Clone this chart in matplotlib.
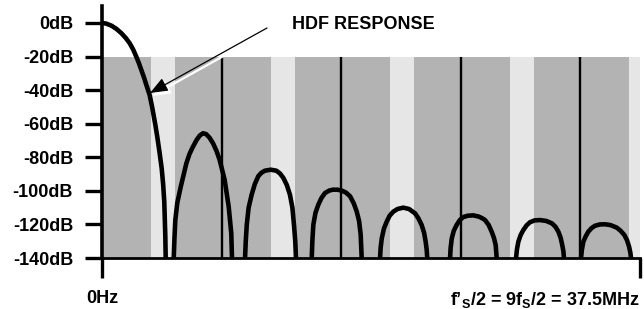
import matplotlib
matplotlib.use('Agg')
import matplotlib.pyplot as plt

plt.rcParams['font.family'] = ['Liberation Sans', 'DejaVu Sans']
plt.rcParams['font.weight'] = 'bold'
plt.rcParams['mathtext.fontset'] = 'custom'
plt.rcParams['mathtext.rm'] = 'Liberation Sans:bold'
plt.rcParams['mathtext.it'] = 'Liberation Sans:bold'
plt.rcParams['mathtext.bf'] = 'Liberation Sans:bold'

# Respuesta HDF (MHz, dB)
main_f = [0, 0.30, 0.65, 1.00, 1.35, 1.65, 1.93, 2.17, 2.39, 2.57, 2.74, 2.92, 3.09, 3.32,
          3.51, 3.72, 3.85, 4.00, 4.16, 4.26, 4.34, 4.41, 4.44]
main_db = [0, -0.4, -1.6, -3.5, -6.1, -8.9, -12.1, -15.8, -20.1, -23.9, -28.0, -32.3, -36.9, -42.9,
           -50.8, -60.8, -67.7, -76.5, -86.6, -96.0, -106.5, -126.3, -140]

lobe_freqs = [
    [5.00, 5.05, 5.11, 5.25, 5.49, 5.88, 6.10, 6.34, 6.60, 6.82, 7.04, 7.26, 7.50, 7.74,
     7.98, 8.20, 8.55, 8.83, 9.01, 9.06],
    [9.97, 10.02, 10.09, 10.22, 10.43, 10.65, 10.89, 11.10, 11.35, 11.76, 12.15, 12.40,
     12.64, 12.88, 13.10, 13.27, 13.38, 13.47, 13.52],
    [14.62, 14.66, 14.73, 14.88, 15.08, 15.30, 15.54, 15.85, 16.10, 16.40, 16.70, 17.00,
     17.29, 17.55, 17.75, 17.92, 18.03, 18.10],
    [19.38, 19.42, 19.50, 19.65, 19.84, 20.05, 20.30, 20.60, 21.00, 21.40, 21.82, 22.05,
     22.28, 22.45, 22.56, 22.63, 22.67],
    [24.26, 24.30, 24.38, 24.52, 24.72, 24.94, 25.18, 25.50, 25.88, 26.25, 26.50, 26.70,
     26.95, 27.16, 27.32, 27.44, 27.51],
    [28.86, 28.92, 29.02, 29.18, 29.37, 29.60, 29.83, 30.15, 30.53, 30.95, 31.35, 31.60,
     31.81, 31.97, 32.08, 32.16, 32.20],
    [33.39, 33.45, 33.55, 33.72, 33.90, 34.12, 34.36, 34.70, 35.06, 35.45, 35.88, 36.15,
     36.41, 36.60, 36.74, 36.83, 36.87],
]
lobe_db = [
    [-140, -128, -117.4, -107, -97.5, -83.6, -78.0, -73.7, -69.6, -67.0, -65.7, -66.2, -68.4, -71.7,
     -76.2, -81.6, -93.5, -109.4, -125.3, -140],
    [-140, -130, -120.2, -110, -102.3, -96.0, -91.3, -89.3, -88.0, -87.4, -88.0, -89.6,
     -92.3, -96.5, -102.3, -110, -120.2, -130, -140],
    [-140, -130, -120.2, -113, -108.2, -104.2, -101.3, -99.8, -99.3, -99.3, -99.8, -101.0,
     -103.2, -107.5, -112.2, -118, -126.1, -140],
    [-140, -134, -128.3, -122.5, -118.4, -114.8, -112.4, -110.8, -110.0, -110.8, -113.4, -116.3,
     -120.3, -125, -130.3, -135, -140],
    [-140, -134, -128.3, -123.8, -120.3, -117.4, -115.6, -114.8, -114.6, -115.3, -116.3, -117.4,
     -120.3, -124.3, -128, -132.3, -140],
    [-140, -135, -130.3, -126.3, -123.3, -120.5, -118.7, -117.6, -117.4, -117.9, -119.3, -121.3,
     -124.3, -128, -132.3, -136, -140],
    [-140, -135, -130.3, -127, -124.3, -122.2, -120.8, -120.0, -119.9, -120.4, -121.9, -123.8,
     -126.3, -129.5, -133.3, -137, -140],
]

# Bandas grises
band_start = [0.0]
band_end = [37.5]
light_start = [3.42, 11.76, 20.08, 28.43, 36.74]
light_end = [5.09, 13.43, 21.75, 30.10, 37.5]
band_top = -20
image_freqs = [8.33, 16.67, 25.0, 33.33]

y_ticks = [0, -20, -40, -60, -80, -100, -120, -140]
y_labels = ['0dB', '-20dB', '-40dB', '-60dB', '-80dB', '-100dB', '-120dB', '-140dB']
x_ticks = [0, 37.5]
x_labels = ['0Hz', 'f\u2019$_\\mathregular{S}$/2 = 9f$_\\mathregular{S}$/2 = 37.5MHz']

fig = plt.figure(figsize=(6.44, 3.09), dpi=100)
ax = fig.add_axes([0.1584, 0.165, 0.8354, 0.8156])

ax.bar(band_start, [band_top + 140] * len(band_start),
       width=[e - s for s, e in zip(band_start, band_end)],
       bottom=-140, align='edge', color='#b3b3b3', zorder=1)
ax.bar(light_start, [band_top + 140] * len(light_start),
       width=[e - s for s, e in zip(light_start, light_end)],
       bottom=-140, align='edge', color='#e6e6e6', zorder=1)
ax.vlines(image_freqs, -140, band_top, color='black', lw=1.7, zorder=2)

ax.plot(main_f, main_db, color='black', lw=3.3, solid_joinstyle='round', zorder=3)
for f, d in zip(lobe_freqs, lobe_db):
    ax.plot(f, d, color='black', lw=3.3, solid_joinstyle='round', zorder=3)

# Flecha con sombra blanca
ax.annotate('', xy=(3.47, -43.5), xytext=(11.6, -4.8),
            arrowprops=dict(arrowstyle='-|>,head_length=0.9,head_width=0.36',
                            color='white', lw=1.6, mutation_scale=12, shrinkA=0, shrinkB=0),
            zorder=4)
ax.annotate('', xy=(3.35, -41.7), xytext=(11.5, -3.0),
            arrowprops=dict(arrowstyle='-|>,head_length=0.9,head_width=0.36',
                            color='black', lw=0.9, mutation_scale=12, shrinkA=0, shrinkB=0),
            zorder=5)
ax.text(13.24, -1.2, 'HDF RESPONSE', fontsize=13, fontweight='bold', va='center', ha='left')

ax.set_xlim(0, 37.5)
ax.set_ylim(-140, 10.1)
ax.set_yticks(y_ticks, y_labels, fontsize=13, fontweight='bold')
ax.set_xticks(x_ticks, x_labels, fontsize=13, fontweight='bold')
ax.get_xticklabels()[1].set_ha('right')
ax.tick_params(axis='y', length=12.2, width=2.4, pad=8.6)
ax.tick_params(axis='x', length=14.4, width=2.4, pad=8.6)

for s in ['top', 'right']:
    ax.spines[s].set_visible(False)
ax.spines['left'].set_linewidth(2.6)
ax.spines['bottom'].set_linewidth(2.0)
ax.spines['left'].set_zorder(6)
ax.spines['bottom'].set_zorder(6)
ax.patch.set_visible(False)

fig.savefig('out.png', dpi=100)
